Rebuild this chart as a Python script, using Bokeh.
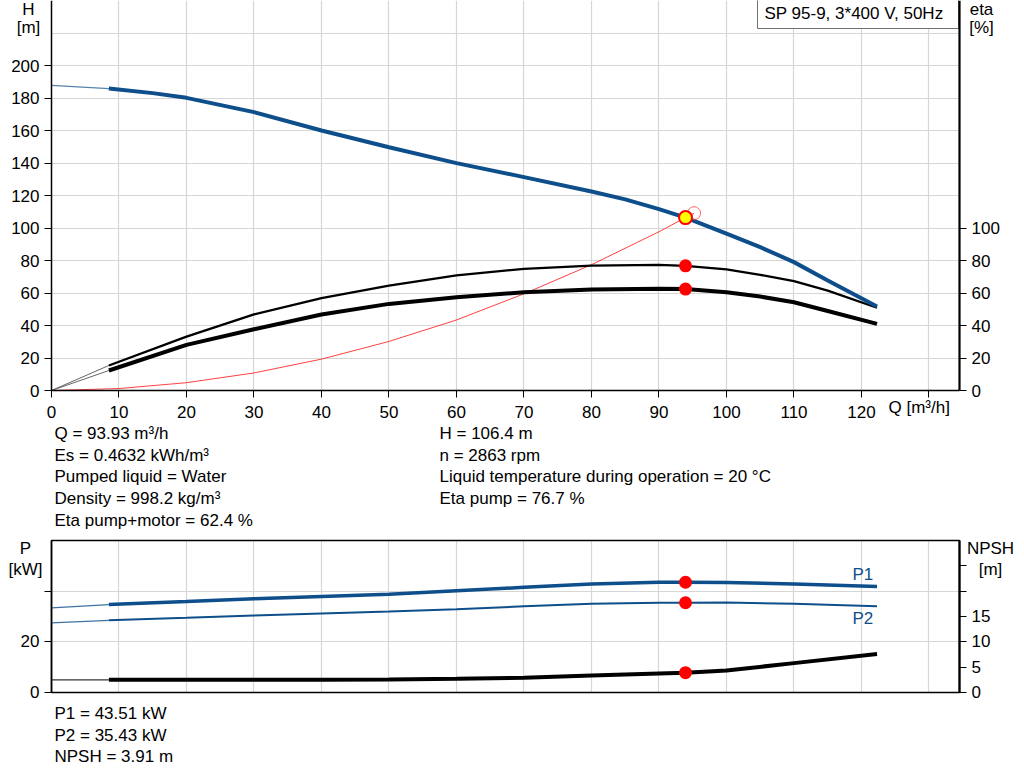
from bokeh.plotting import figure
from bokeh.layouts import column
from bokeh.models import Range1d, LinearAxis, FixedTicker, BoxAnnotation
from bokeh.core.properties import value
from bokeh.embed import file_html
from bokeh.resources import INLINE

FONT = "Liberation Sans"
FS = "17px"
BLUE = "#0d4e8b"
GRID = "#d6d6d6"

# ---------------- data: upper chart (Q in m³/h) ----------------
q_h_start = [0.0, 8.5]
h_start = [187.8, 185.8]
q_h = [8.5, 15, 20, 30, 40, 50, 60, 70, 80, 85, 90, 93.93, 100, 105, 110, 115, 122.3]
h_vals = [185.8, 183.0, 180.1, 171.3, 160.0, 149.7, 139.9, 131.3, 122.5, 117.6, 111.6, 106.4,
          96.5, 88.2, 79.0, 67.7, 51.7]

q_eta_start = [0.0, 8.5]
eta_pump_start = [0.0, 15.4]
eta_pm_start = [0.0, 12.3]
q_eta = [8.5, 20, 30, 40, 50, 60, 70, 80, 90, 93.93, 100, 105, 110, 115, 122.3]
eta_pump = [15.4, 33.2, 46.8, 56.8, 64.6, 70.8, 74.9, 76.9, 77.3, 76.7, 74.5, 71.2, 67.3, 61.5, 50.9]
eta_pm = [12.3, 28.1, 37.7, 46.8, 53.3, 57.4, 60.5, 62.2, 62.6, 62.4, 60.5, 57.8, 54.3, 48.9, 41.0]

q_sys = [0, 10, 20, 30, 40, 50, 60, 70, 80, 90, 93.93, 95.2]
h_sys = [0, 1.2, 4.8, 10.8, 19.3, 30.2, 43.4, 59.5, 77.4, 97.7, 106.4, 109.1]

q_duty = [93.93]
h_duty = [106.4]
eta_pump_duty = [76.7]
eta_pm_duty = [62.4]
q_req = [95.2]
h_req = [109.1]

# ---------------- data: lower chart ----------------
q_p_start = [0.0, 8.5]
p1_start = [33.4, 34.7]
p2_start = [27.5, 28.5]
npsh_start = [2.5, 2.5]
q_p = [8.5, 20, 30, 40, 50, 60, 70, 80, 90, 93.93, 100, 110, 122.3]
p1 = [34.7, 35.9, 37.0, 37.9, 38.8, 40.2, 41.5, 42.8, 43.5, 43.51, 43.45, 42.8, 41.8]
p2 = [28.5, 29.5, 30.4, 31.2, 32.0, 32.9, 34.0, 35.0, 35.4, 35.43, 35.5, 35.0, 34.0]
npsh = [2.5, 2.5, 2.5, 2.52, 2.57, 2.7, 2.9, 3.35, 3.75, 3.91, 4.34, 5.8, 7.6]
p1_duty = [43.51]
p2_duty = [35.43]
npsh_duty = [3.91]

# ---------------- ticks / texts ----------------
x_ticks = list(range(0, 140, 10))
x_grid = list(range(10, 140, 10))
h_ticks = list(range(0, 201, 20))
h_grid = list(range(20, 221, 20))
eta_ticks = list(range(0, 101, 20))
p_ticks = [0, 20, 40]
p_grid = [20, 40]
npsh_ticks = [0, 5, 10, 15, 20, 25]

title_text = "SP 95-9, 3*400 V, 50Hz"
info_left = ["Q = 93.93 m³/h", "Es = 0.4632 kWh/m³", "Pumped liquid = Water",
             "Density = 998.2 kg/m³", "Eta pump+motor = 62.4 %"]
info_right = ["H = 106.4 m", "n = 2863 rpm",
              "Liquid temperature during operation = 20 °C", "Eta pump = 76.7 %"]
info_bottom = ["P1 = 43.51 kW", "P2 = 35.43 kW", "NPSH = 3.91 m"]

# ---------------- geometry (pixels on the page) ----------------
W = 1016
X0, X1 = 51, 959           # plot area left/right in page pixels
XMAX = 134.52              # Q at the right edge of the plot area
TOP_H = 530                # upper figure height
TOP_Y0 = 390               # page pixel of H = 0
HMAX = 240.0               # H at page pixel 0
BOT_TOP = 530              # lower figure top on page
BOT_H = 242
BOT_Y0, BOT_YTOP = 692, 540
PMAX = 60.0
NPSH_MAX = 30.0
DY = -6                    # text baseline correction (px)

xs_per_px = XMAX / (X1 - X0)
hs_per_px = HMAX / TOP_Y0
ps_per_px = PMAX / (BOT_Y0 - BOT_YTOP)


def tx(px):
    return (px - X0) * xs_per_px


def ty(py):
    return (TOP_Y0 - py) * hs_per_px


def by(py):
    return (BOT_Y0 - py) * ps_per_px


def style_axis(ax, width=1.5):
    ax.axis_line_color = "black"
    ax.axis_line_width = width
    ax.major_tick_line_color = "black"
    ax.major_tick_line_width = 1
    ax.major_tick_out = 7
    ax.major_tick_in = 0
    ax.minor_tick_line_color = None
    ax.major_label_text_font = FONT
    ax.major_label_text_font_size = FS
    ax.major_label_text_color = "black"
    ax.major_label_standoff = 5


def texts(fig, xs, ys, labels, align="left", color="black"):
    fig.text(x=xs, y=ys, text=labels, text_font=value(FONT), text_font_size=value(FS),
             text_color=color, text_align=align, text_baseline="alphabetic")


# ================= upper chart =================
top = figure(width=W, height=TOP_H,
             x_range=Range1d(tx(0), tx(W)), y_range=Range1d(ty(TOP_H), ty(0)),
             output_backend="svg", toolbar_location=None, min_border=0)
top.outline_line_color = None
top.background_fill_color = "white"
top.border_fill_color = "white"

top.xaxis.ticker = FixedTicker(ticks=x_ticks)
top.xaxis.major_label_overrides = {130: " "}
top.xaxis.fixed_location = 0
top.xaxis.bounds = (0, XMAX)
top.yaxis.ticker = FixedTicker(ticks=h_ticks)
top.yaxis.fixed_location = 0
top.yaxis.bounds = (0, HMAX)
style_axis(top.xaxis[0])
style_axis(top.yaxis[0])
eta_axis = LinearAxis(ticker=FixedTicker(ticks=eta_ticks), fixed_location=XMAX, bounds=(0, HMAX))
style_axis(eta_axis, 2.2)
top.add_layout(eta_axis, "right")

top.xgrid.ticker = FixedTicker(ticks=x_grid)
top.xgrid.cross_bounds = (0, HMAX)
top.ygrid.ticker = FixedTicker(ticks=h_grid)
top.ygrid.cross_bounds = (0, XMAX)
top.grid.grid_line_color = GRID
top.grid.grid_line_width = 1.2
top.grid.level = "image"

# title box (drawn under the glyphs, above the grid)
top.add_layout(BoxAnnotation(left=tx(757), right=tx(958), bottom=ty(28), top=ty(-4),
                             fill_color="white", fill_alpha=1.0,
                             line_color="#707070", line_alpha=1.0, line_width=1,
                             level="underlay"))

# curves
top.line(q_sys, h_sys, line_color="#ff2020", line_width=1, line_alpha=0.85)
top.line(q_eta_start, eta_pump_start, line_color="#666666", line_width=1)
top.line(q_eta_start, eta_pm_start, line_color="#666666", line_width=1)
top.line(q_eta, eta_pump, line_color="black", line_width=2.3)
top.line(q_eta, eta_pm, line_color="black", line_width=4)
top.line(q_h_start, h_start, line_color=BLUE, line_width=1.2, line_alpha=0.7)
top.line(q_h, h_vals, line_color=BLUE, line_width=4)

top.scatter(q_req, h_req, size=13, fill_color=None, line_color="#ff4040", line_width=1, line_alpha=0.8)
top.scatter(q_duty, h_duty, size=13, fill_color="#ffff00", line_color="#ff0000", line_width=2)
top.scatter(q_duty, eta_pump_duty, size=13, fill_color="#ff0000", line_color=None)
top.scatter(q_duty, eta_pm_duty, size=13, fill_color="#ff0000", line_color=None)

texts(top, [tx(764)], [ty(19 + DY)], [title_text])
texts(top, [tx(28), tx(28), tx(981), tx(981)],
      [ty(15 + DY), ty(33 + DY), ty(15 + DY), ty(33 + DY)],
      ["H", "[m]", "eta", "[%]"], align="center")
texts(top, [tx(888)], [ty(413 + DY)], ["Q [m³/h]"])

line_gap = 21.7
texts(top, [tx(54)] * len(info_left),
      [ty(439 + DY + i * line_gap) for i in range(len(info_left))], info_left)
texts(top, [tx(439)] * len(info_right),
      [ty(439 + DY + i * line_gap) for i in range(len(info_right))], info_right)

# ================= lower chart =================
bot = figure(width=W, height=BOT_H,
             x_range=Range1d(tx(0), tx(W)),
             y_range=Range1d(by(BOT_TOP + BOT_H), by(BOT_TOP)),
             output_backend="svg", toolbar_location=None, min_border=0)
bot.extra_y_ranges = {"npsh": Range1d(by(BOT_TOP + BOT_H) * NPSH_MAX / PMAX,
                                      by(BOT_TOP) * NPSH_MAX / PMAX)}
bot.outline_line_color = None
bot.background_fill_color = "white"
bot.border_fill_color = "white"
bot.xaxis.visible = False
bot.xaxis.bounds = (0, XMAX)
bot.yaxis.ticker = FixedTicker(ticks=p_ticks)
bot.yaxis.major_label_overrides = {40: " "}
bot.yaxis.fixed_location = 0
bot.yaxis.bounds = (0, PMAX)
style_axis(bot.yaxis[0])
npsh_axis = LinearAxis(y_range_name="npsh", ticker=FixedTicker(ticks=npsh_ticks),
                       major_label_overrides={20: " ", 25: " "},
                       fixed_location=XMAX, bounds=(0, NPSH_MAX))
style_axis(npsh_axis, 2.2)
bot.add_layout(npsh_axis, "right")

bot.xgrid.ticker = FixedTicker(ticks=x_grid)
bot.xgrid.cross_bounds = (0, PMAX)
bot.ygrid.ticker = FixedTicker(ticks=p_grid)
bot.ygrid.cross_bounds = (0, XMAX)
bot.grid.grid_line_color = GRID
bot.grid.grid_line_width = 1.2
bot.grid.level = "image"

# plot-area frame
bot.add_layout(BoxAnnotation(left=0, right=XMAX, bottom=0, top=PMAX, fill_alpha=0,
                             line_color="black", line_alpha=1.0, line_width=1.5,
                             level="underlay"))

bot.line(q_p_start, p1_start, line_color=BLUE, line_width=1.2, line_alpha=0.8)
bot.line(q_p_start, p2_start, line_color=BLUE, line_width=1.2, line_alpha=0.8)
bot.line(q_p_start, npsh_start, line_color="#333333", line_width=1.2, y_range_name="npsh")
bot.line(q_p, p1, line_color=BLUE, line_width=3.5)
bot.line(q_p, p2, line_color=BLUE, line_width=2)
bot.line(q_p, npsh, line_color="black", line_width=4, y_range_name="npsh")

bot.scatter(q_duty, p1_duty, size=13, fill_color="#ff0000", line_color=None)
bot.scatter(q_duty, p2_duty, size=13, fill_color="#ff0000", line_color=None)
bot.scatter(q_duty, npsh_duty, size=13, fill_color="#ff0000", line_color=None, y_range_name="npsh")

texts(bot, [tx(25), tx(25), tx(990), tx(990)],
      [by(554 + DY), by(575 + DY), by(554 + DY), by(575 + DY)],
      ["P", "[kW]", "NPSH", "[m]"], align="center")
texts(bot, [tx(852), tx(852)], [by(580 + DY), by(624 + DY)], ["P1", "P2"], color=BLUE)
texts(bot, [tx(54)] * len(info_bottom),
      [by(719 + DY + i * line_gap) for i in range(len(info_bottom))], info_bottom)

layout = column(top, bot, spacing=0)
open("out.html", "w").write(file_html(layout, INLINE))
